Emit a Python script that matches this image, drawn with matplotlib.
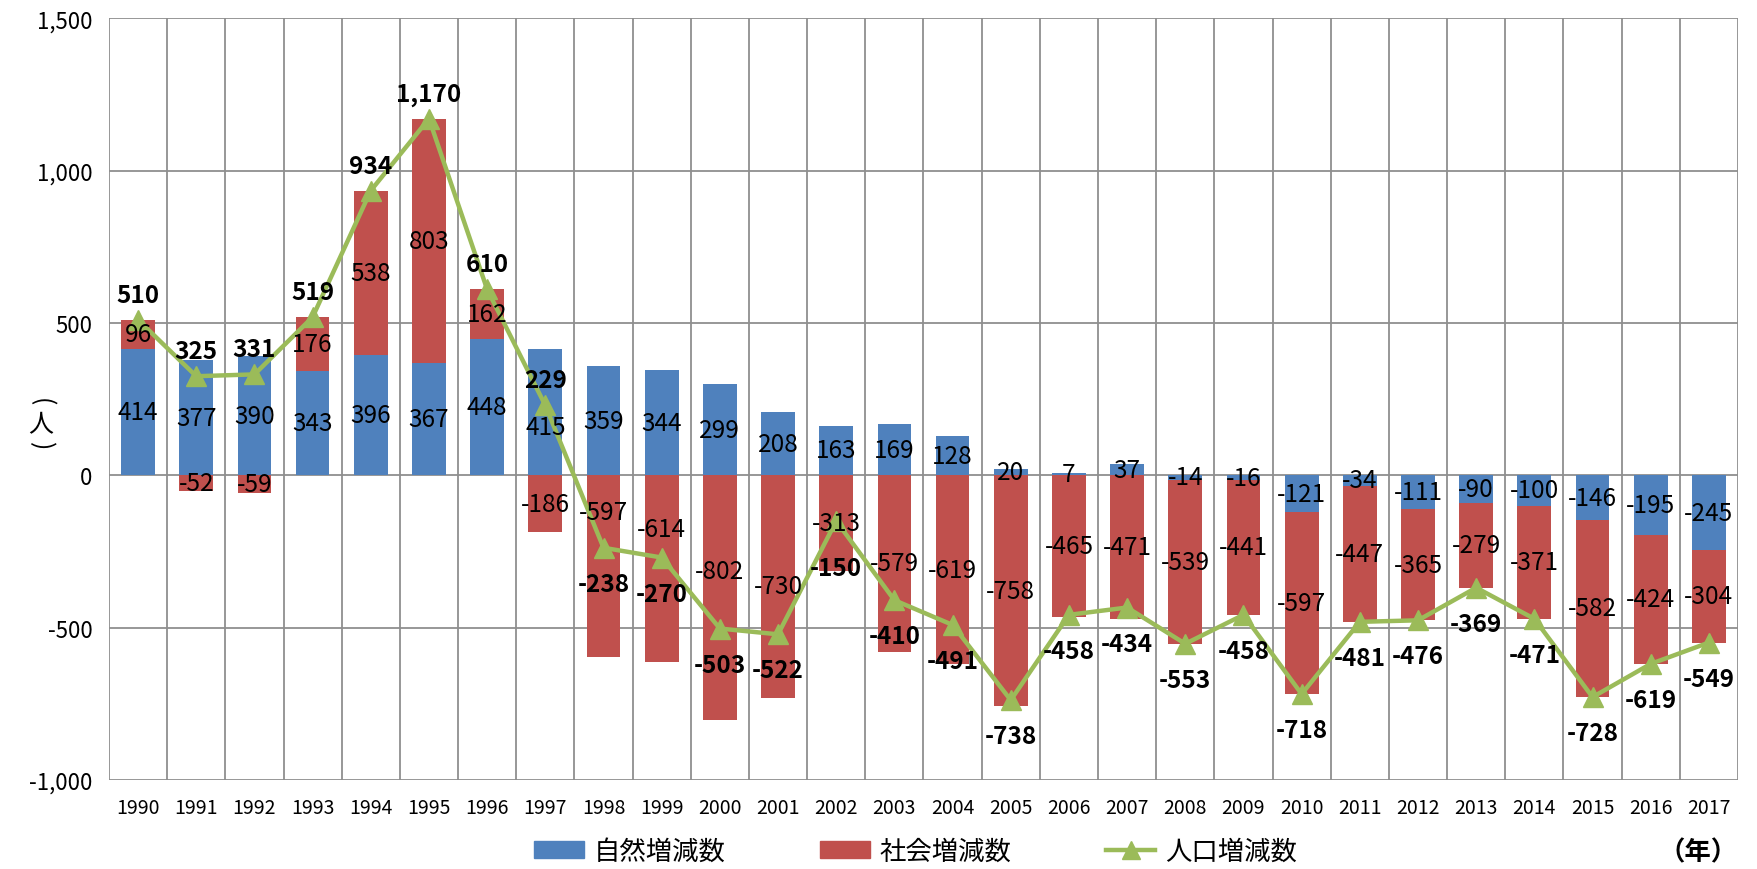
import matplotlib
matplotlib.use("Agg")
import matplotlib.pyplot as plt
import numpy as np
from matplotlib.ticker import FuncFormatter, MultipleLocator
from matplotlib.lines import Line2D
from matplotlib.patches import Patch

plt.rcParams['font.family'] = ['Noto Sans CJK JP', 'DejaVu Sans']

years = [str(y) for y in range(1990, 2018)]
natural = [414, 377, 390, 343, 396, 367, 448, 415, 359, 344, 299, 208, 163, 169,
           128, 20, 7, 37, -14, -16, -121, -34, -111, -90, -100, -146, -195, -245]
social = [96, -52, -59, 176, 538, 803, 162, -186, -597, -614, -802, -730, -313, -579,
          -619, -758, -465, -471, -539, -441, -597, -447, -365, -279, -371, -582, -424, -304]
total = [510, 325, 331, 519, 934, 1170, 610, 229, -238, -270, -503, -522, -150, -410,
         -491, -738, -458, -434, -553, -458, -718, -481, -476, -369, -471, -728, -619, -549]

blue = '#4F81BD'
red = '#C0504D'
green = '#9BBB59'
grid = '#8f8f8f'

# labels that were hand-moved in the original (points, +up)
nudge_nat = {'1997': -11}
nudge_soc = {'1998': 39, '1999': 29, '2000': 19}
nudge_tot = {'2002': -8}

fig = plt.figure(figsize=(17.58, 8.70), dpi=100)
ax = fig.add_axes([0.062, 0.1023, 0.9266, 0.8757])

x = np.arange(len(years))
nat = np.array(natural)
soc = np.array(social)

# Excel style stacking: positives up from 0, negatives down from 0
nat_bottom = np.zeros(len(x))
soc_bottom = np.where((soc >= 0) == (nat >= 0), nat, 0)

w = 0.58
ax.bar(x, nat, w, bottom=nat_bottom, color=blue, zorder=2)
ax.bar(x, soc, w, bottom=soc_bottom, color=red, zorder=2)

ax.plot(x, total, color=green, lw=3.2, marker='^', ms=14, zorder=4)

for i in x:
    yr = years[i]
    ax.annotate(str(nat[i]), (i, nat_bottom[i] + nat[i] / 2),
                xytext=(0, nudge_nat.get(yr, 0)), textcoords='offset points',
                ha='center', va='center', fontsize=17.5, zorder=5)
    ax.annotate(str(soc[i]), (i, soc_bottom[i] + soc[i] / 2),
                xytext=(0, nudge_soc.get(yr, 0)), textcoords='offset points',
                ha='center', va='center', fontsize=17.5, zorder=5)
    t = total[i]
    off = (18 if t >= 0 else -26) + nudge_tot.get(yr, 0)
    ax.annotate(f"{t:,}", (i, t), xytext=(0, off), textcoords='offset points',
                ha='center', va='center', fontsize=17.5, fontweight='bold', zorder=6)

ax.set_xlim(-0.5, len(x) - 0.5)
ax.set_ylim(-1000, 1500)
ax.yaxis.set_major_locator(MultipleLocator(500))
ax.yaxis.set_major_formatter(FuncFormatter(lambda v, p: f"{v:,.0f}"))
ax.set_xticks(x)
ax.set_xticklabels(years, fontsize=14)
ax.set_xticks(np.arange(-0.5, len(x)), minor=True)
ax.tick_params(axis='x', which='both', length=0, pad=12)
ax.tick_params(axis='y', length=0, labelsize=16, pad=12)
ax.grid(axis='y', color=grid, lw=1.3, zorder=0)
ax.grid(axis='x', which='minor', color=grid, lw=1.3, zorder=0)
ax.grid(axis='x', which='major', visible=False)
for s in ax.spines.values():
    s.set_visible(False)

# vertical y-axis label（人）
fig.text(0.023, 0.538, "(", fontsize=18, ha='center', va='center', rotation=-90)
fig.text(0.023, 0.511, "人", fontsize=18, ha='center', va='center')
fig.text(0.023, 0.487, ")", fontsize=18, ha='center', va='center', rotation=-90)
fig.text(0.9886, 0.02, "（年）", fontsize=19, fontweight='bold', ha='right', va='center')

handles = [Patch(color=blue), Patch(color=red),
           Line2D([], [], color=green, lw=3.2, marker='^', ms=13)]
fig.legend(handles, ['自然増減数', '社会増減数', '人口増減数'], loc='center',
           bbox_to_anchor=(0.521, 0.02), ncol=3, frameon=False, fontsize=19,
           handlelength=1.86, handleheight=0.6, columnspacing=3.6, handletextpad=0.38)

fig.savefig('out.png', dpi=100)
